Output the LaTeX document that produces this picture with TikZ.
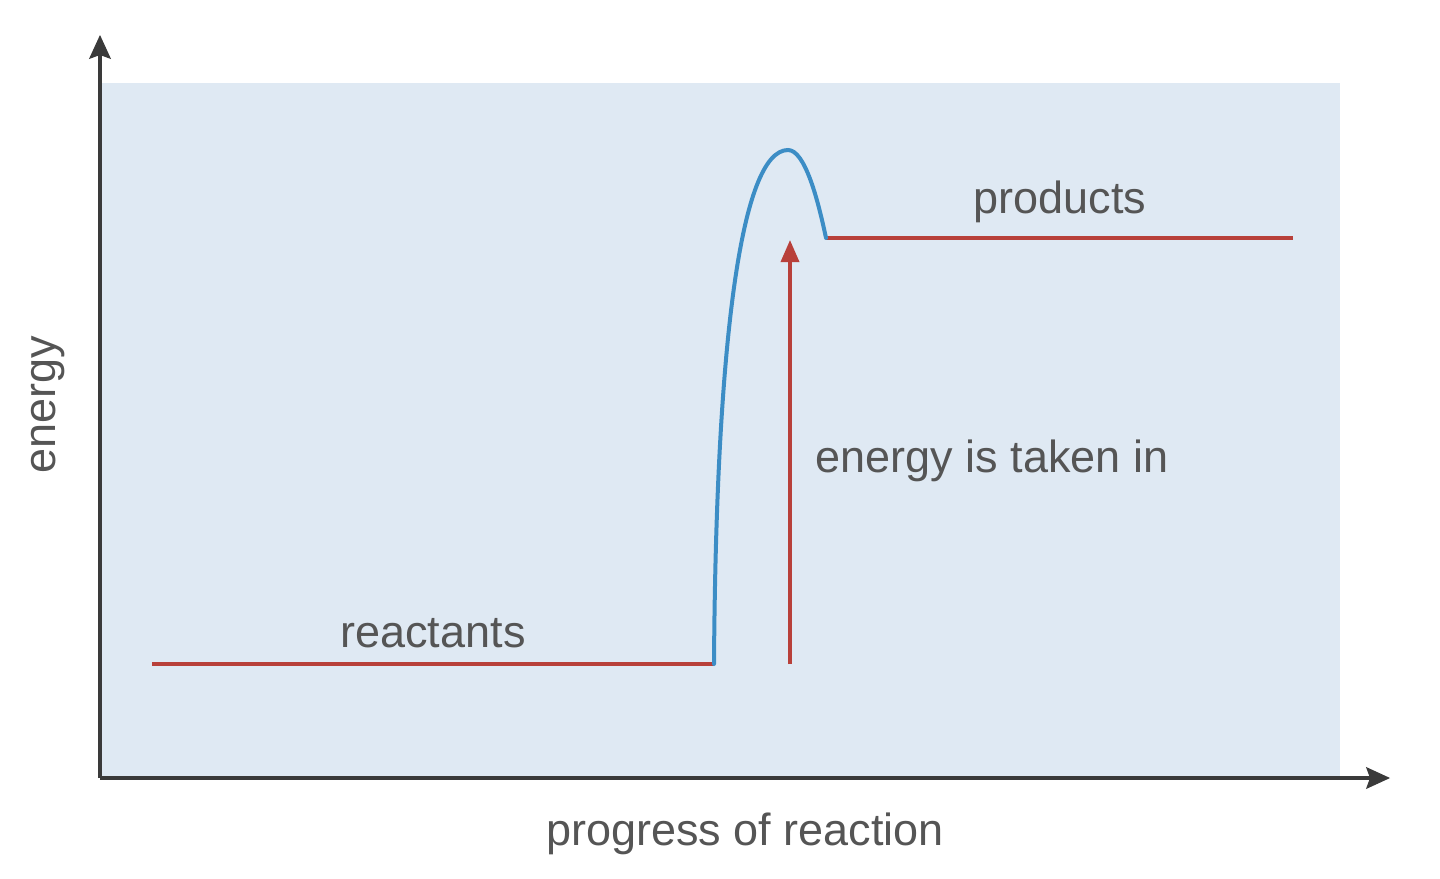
\documentclass[tikz,border=0pt]{standalone}
\usepackage{fontspec}
\setmainfont{Liberation Sans}
\usetikzlibrary{arrows.meta}
\definecolor{bgblue}{HTML}{DFE9F3}
\definecolor{axisgray}{HTML}{3A3A3A}
\definecolor{levelred}{HTML}{B8403A}
\definecolor{curveblue}{HTML}{3C8DC5}
\definecolor{txtgray}{HTML}{555555}
\tikzset{
  axis/.style={draw=axisgray, line width=4pt, -{Stealth[length=24pt,width=22pt,inset=4pt,line width=1pt,fill=axisgray]}},
  level/.style={draw=levelred, line width=4pt},
  curve/.style={draw=curveblue, line width=4pt},
  uparrow/.style={draw=levelred, line width=3.5pt, -{Triangle[length=22pt,width=18pt]}},
  lbl/.style={text=txtgray, font=\fontsize{45}{54}\selectfont, inner sep=0pt}
}
\begin{document}
\begin{tikzpicture}[x=1pt,y=-1pt]
\useasboundingbox (0,0) rectangle (1440,878);
\fill[bgblue] (100,83) rectangle (1340,778);
% coordinates
\coordinate (O) at (100,778);
\coordinate (ytop) at (100,35);
\coordinate (xend) at (1390,778);
\coordinate (r0) at (152,664);
\coordinate (r1) at (714,664);
\coordinate (peak) at (788,150);
\coordinate (p0) at (826,238);
\coordinate (p1) at (1293,238);
\coordinate (a0) at (790,664);
\coordinate (a1) at (790,240);
% axes
\draw[axis] (O) -- (ytop);
\draw[axis] (O) -- (xend);
% levels
\draw[level] (r0) -- (r1);
\draw[level] (p0) -- (p1);
% curve
\draw[curve, line cap=round] (r1) .. controls (716,350) and (740,150) .. (peak)
  .. controls (805,150) and (818,200) .. (p0);
% arrow
\draw[uparrow] (a0) -- (a1);
% labels
\node[lbl] (reac) at (433,633) {reactants};
\node[lbl] (prod) at (1060,202) {products};
\node[lbl] (taken) at (992,461) {energy is taken in};
\node[lbl] (xlab) at (745,834) {progress of reaction};
\node[lbl, rotate=90] (ylab) at (48,405) {energy};
\end{tikzpicture}
\end{document}
